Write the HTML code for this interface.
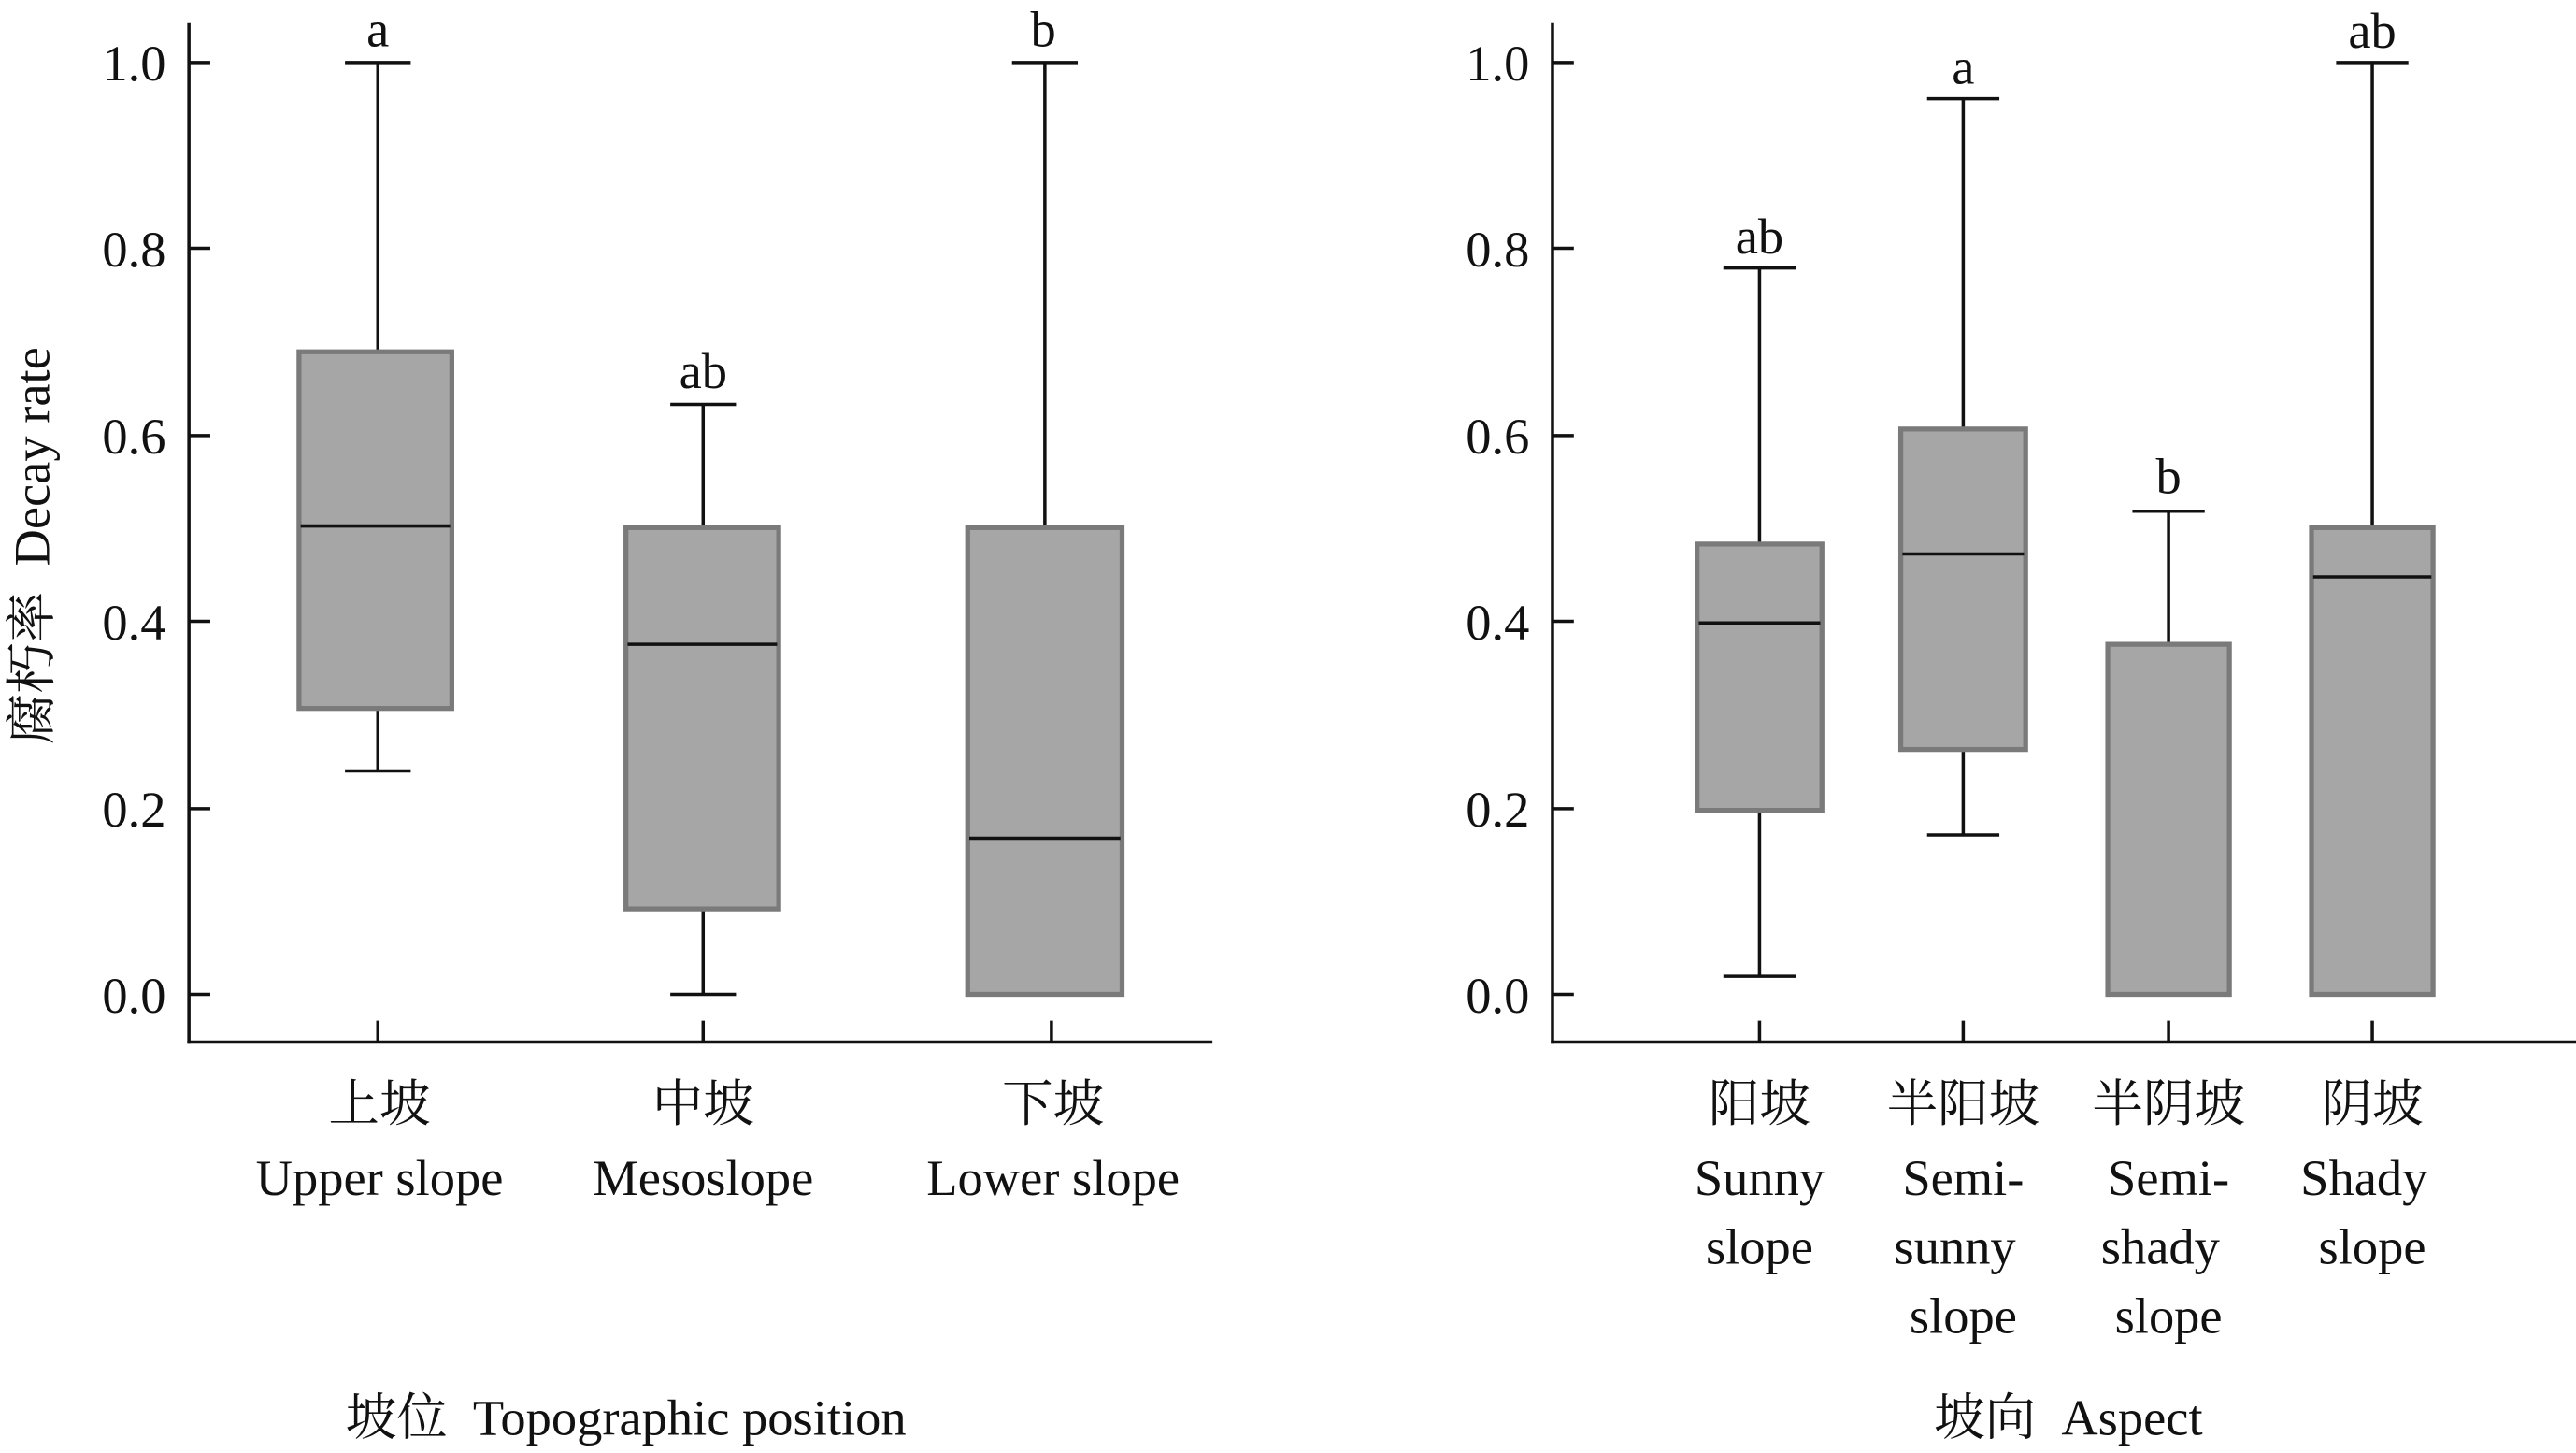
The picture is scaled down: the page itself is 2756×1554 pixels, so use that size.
<!DOCTYPE html>
<html><head><meta charset="utf-8"><style>
html,body{margin:0;padding:0;background:#fff;}
svg{display:block;}
text{font-family:"Liberation Serif","Noto Serif CJK SC","Noto Sans CJK SC",serif;fill:#111;}
</style></head><body>
<svg width="2756" height="1554" viewBox="0 0 1568 884" xmlns="http://www.w3.org/2000/svg">
<g stroke="#111" stroke-width="2" fill="none">
<line x1="115" y1="14" x2="115" y2="635"/><line x1="114" y1="634" x2="738" y2="634"/>
<line x1="115" y1="38" x2="128" y2="38"/><line x1="115" y1="151" x2="128" y2="151"/><line x1="115" y1="265" x2="128" y2="265"/><line x1="115" y1="378" x2="128" y2="378"/><line x1="115" y1="492" x2="128" y2="492"/><line x1="115" y1="605" x2="128" y2="605"/>
<line x1="230" y1="634" x2="230" y2="621"/><line x1="428" y1="634" x2="428" y2="621"/><line x1="640" y1="634" x2="640" y2="621"/>
<line x1="945" y1="14" x2="945" y2="635"/><line x1="944" y1="634" x2="1568" y2="634"/>
<line x1="945" y1="38" x2="958" y2="38"/><line x1="945" y1="151" x2="958" y2="151"/><line x1="945" y1="265" x2="958" y2="265"/><line x1="945" y1="378" x2="958" y2="378"/><line x1="945" y1="492" x2="958" y2="492"/><line x1="945" y1="605" x2="958" y2="605"/>
<line x1="1071" y1="634" x2="1071" y2="621"/><line x1="1195" y1="634" x2="1195" y2="621"/><line x1="1320" y1="634" x2="1320" y2="621"/><line x1="1444" y1="634" x2="1444" y2="621"/>
<line x1="230" y1="38" x2="230" y2="469"/><line x1="210" y1="38" x2="250" y2="38"/><line x1="210" y1="469" x2="250" y2="469"/>
<line x1="428" y1="246" x2="428" y2="605"/><line x1="408" y1="246" x2="448" y2="246"/><line x1="408" y1="605" x2="448" y2="605"/>
<line x1="636" y1="38" x2="636" y2="605"/><line x1="616" y1="38" x2="656" y2="38"/>
<line x1="1071" y1="163" x2="1071" y2="594"/><line x1="1049" y1="163" x2="1093" y2="163"/><line x1="1049" y1="594" x2="1093" y2="594"/>
<line x1="1195" y1="60" x2="1195" y2="508"/><line x1="1173" y1="60" x2="1217" y2="60"/><line x1="1173" y1="508" x2="1217" y2="508"/>
<line x1="1320" y1="311" x2="1320" y2="605"/><line x1="1298" y1="311" x2="1342" y2="311"/>
<line x1="1444" y1="38" x2="1444" y2="605"/><line x1="1422" y1="38" x2="1466" y2="38"/>
</g>
<g fill="#a6a6a6" stroke="#7a7a7a" stroke-width="3">
<rect x="182" y="214" width="93" height="217"/>
<rect x="381" y="321" width="93" height="232"/>
<rect x="589" y="321" width="94" height="284"/>
<rect x="1033" y="331" width="76" height="162"/>
<rect x="1157" y="261" width="76" height="195"/>
<rect x="1283" y="392" width="74" height="213"/>
<rect x="1407" y="321" width="74" height="284"/>
</g>
<g stroke="#111" stroke-width="2">
<line x1="183" y1="320" x2="274" y2="320"/><line x1="382" y1="392" x2="473" y2="392"/><line x1="590" y1="510" x2="682" y2="510"/>
<line x1="1034" y1="379" x2="1108" y2="379"/><line x1="1158" y1="337" x2="1232" y2="337"/><line x1="1408" y1="351" x2="1480" y2="351"/>
</g>
<g font-size="31" text-anchor="end">
<text x="101" y="49">1.0</text><text x="101" y="162">0.8</text><text x="101" y="276">0.6</text><text x="101" y="389">0.4</text><text x="101" y="503">0.2</text><text x="101" y="616">0.0</text>
<text x="931" y="49">1.0</text><text x="931" y="162">0.8</text><text x="931" y="276">0.6</text><text x="931" y="389">0.4</text><text x="931" y="503">0.2</text><text x="931" y="616">0.0</text>
</g>
<g font-size="31" text-anchor="middle">
<text x="230" y="28">a</text><text x="428" y="236">ab</text><text x="635" y="28">b</text>
<text x="1071" y="154">ab</text><text x="1195" y="51">a</text><text x="1320" y="300">b</text><text x="1444" y="29">ab</text>
<text x="231" y="682">上坡</text><text x="231" y="727">Upper slope</text>
<text x="428" y="682">中坡</text><text x="428" y="727">Mesoslope</text>
<text x="641" y="682">下坡</text><text x="641" y="727">Lower slope</text>
<text x="1071" y="682">阳坡</text><text x="1071" y="727">Sunny</text><text x="1071" y="769">slope</text>
<text x="1195" y="682">半阳坡</text><text x="1195" y="727">Semi-</text><text x="1190" y="769">sunny</text><text x="1195" y="811">slope</text>
<text x="1320" y="682">半阴坡</text><text x="1320" y="727">Semi-</text><text x="1315" y="769">shady</text><text x="1320" y="811">slope</text>
<text x="1444" y="682">阴坡</text><text x="1439" y="727">Shady</text><text x="1444" y="769">slope</text>
<text x="381" y="873">坡位&#160;&#160;Topographic position</text>
<text x="1259" y="873">坡向&#160;&#160;Aspect</text>
<text transform="translate(30,332) rotate(-90)">腐朽率&#160;&#160;Decay rate</text>
</g>
</svg>
</body></html>
